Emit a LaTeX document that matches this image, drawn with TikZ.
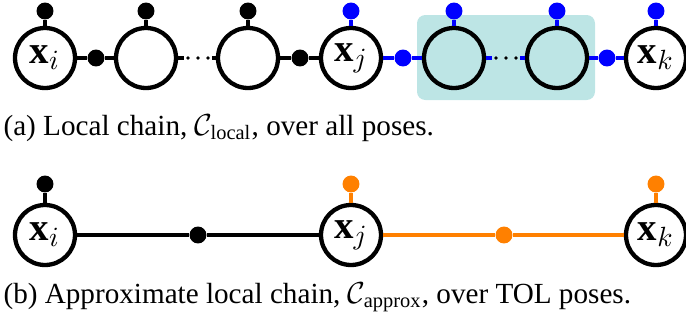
\documentclass[tikz,border=0pt]{standalone}
\usepackage{fontspec}
\setmainfont{Liberation Serif}
\usepackage{amsmath}
\definecolor{tealbg}{RGB}{189,229,229}
\definecolor{fblue}{RGB}{0,0,255}
\definecolor{forange}{RGB}{255,128,0}
\begin{document}
\begin{tikzpicture}[x=0.36pt,y=-0.36pt,
  var/.style={circle,draw=black,line width=1.55pt,minimum size=21.6pt,inner sep=0pt,font=\fontsize{14}{16}\selectfont},
  fac/.style={circle,fill,minimum size=6.1pt,inner sep=0pt},
  edge/.style={line width=1.2pt},
  dotline/.style={line width=1.3pt,line cap=round,dash pattern=on 0pt off 3.6pt},
  caption/.style={anchor=base west,inner sep=0pt,font=\fontsize{10.5}{12}\selectfont}]
\useasboundingbox (0,0) rectangle (686,320);
\fill[tealbg, rounded corners=3pt] (417,15) rectangle (595,100);
% top row variables
\node[var] (a1) at (45,58) {$\mathbf{x}_i$};
\node[var] (a2) at (146,58) {};
\node[var] (a3) at (248,58) {};
\node[var] (a4) at (351,58) {$\mathbf{x}_j$};
\node[var] (a5) at (454,58) {};
\node[var] (a6) at (557,58) {};
\node[var] (a7) at (656,58) {$\mathbf{x}_k$};
% unary factors
\node[fac] (u1) at (45,11) {};
\node[fac] (u2) at (146,11) {};
\node[fac] (u3) at (248,11) {};
\node[fac,fblue] (u4) at (351,11) {};
\node[fac,fblue] (u5) at (454,11) {};
\node[fac,fblue] (u6) at (557,11) {};
\node[fac,fblue] (u7) at (656,11) {};
% binary factors
\node[fac] (f1) at (96,58) {};
\node[fac] (f2) at (300,58) {};
\node[fac,fblue] (f3) at (403,58) {};
\node[fac,fblue] (f4) at (607,58) {};
% ellipsis end points
\coordinate (s1a) at (184,58);
\coordinate (d1a) at (188,58);
\coordinate (d1b) at (208.3,58);
\coordinate (s1b) at (212,58);
\coordinate (s2a) at (492,58);
\coordinate (d2a) at (496,58);
\coordinate (d2b) at (516.3,58);
\coordinate (s2b) at (520,58);
% edges
\draw[edge] (u1) -- (a1);
\draw[edge] (u2) -- (a2);
\draw[edge] (u3) -- (a3);
\draw[edge,fblue] (u4) -- (a4);
\draw[edge,fblue] (u5) -- (a5);
\draw[edge,fblue] (u6) -- (a6);
\draw[edge,fblue] (u7) -- (a7);
\draw[edge] (a1) -- (f1) -- (a2);
\draw[edge] (a3) -- (f2) -- (a4);
\draw[edge,fblue] (a4) -- (f3) -- (a5);
\draw[edge,fblue] (a6) -- (f4) -- (a7);
\draw[edge] (a2) -- (s1a);
\draw[edge] (s1b) -- (a3);
\draw[dotline] (d1a) -- (d1b);
\draw[edge,fblue] (a5) -- (s2a);
\draw[edge,fblue] (s2b) -- (a6);
\draw[dotline] (d2a) -- (d2b);
\node[caption] (capa) at (3,135) {(a) Local chain, $\mathcal{C}_{\text{local}}$, over all poses.};
% bottom row
\node[var] (b1) at (45,235) {$\mathbf{x}_i$};
\node[var] (b2) at (351,235) {$\mathbf{x}_j$};
\node[var] (b3) at (656,235) {$\mathbf{x}_k$};
\node[fac] (v1) at (45,184) {};
\node[fac,forange] (v2) at (351,184) {};
\node[fac,forange] (v3) at (656,184) {};
\node[fac] (g1) at (198,235) {};
\node[fac,forange] (g2) at (504,235) {};
\draw[edge] (v1) -- (b1);
\draw[edge,forange] (v2) -- (b2);
\draw[edge,forange] (v3) -- (b3);
\draw[edge] (b1) -- (g1) -- (b2);
\draw[edge,forange] (b2) -- (g2) -- (b3);
\node[caption] (capb) at (3,303) {(b) Approximate local chain, $\mathcal{C}_{\text{approx}}$, over TOL poses.};
\end{tikzpicture}
\end{document}
